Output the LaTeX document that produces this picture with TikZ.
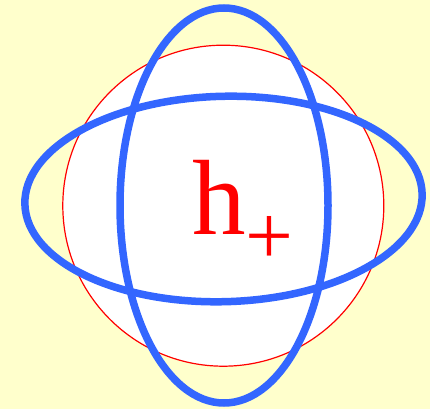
\documentclass[tikz,border=0pt]{standalone}
\usepackage{fontspec}
\setmainfont{Liberation Serif}
\definecolor{bgyellow}{HTML}{FFFFCC}
\definecolor{ringblue}{HTML}{3366FF}
\definecolor{hred}{HTML}{FF0000}
\begin{document}
\begin{tikzpicture}[x=1pt,y=1pt,
  ring/.style={draw=ringblue,line width=7.5pt},
  sphere/.style={draw=hred,line width=1.2pt,fill=white}]
\fill[bgyellow] (0,0) rectangle (430,409);
\useasboundingbox (0,0) rectangle (430,409);
\draw[sphere] (223.3,203.3) circle[radius=160.5];
\draw[ring] (224,203.5) ellipse[x radius=104,y radius=197.5];
\draw[ring,rotate around={1.5:(223.5,210)}] (223.5,210) ellipse[x radius=198.7,y radius=102.7];
\node[anchor=base west,inner sep=0pt,text=hred,font=\fontsize{107}{107}\selectfont] (label) at (192,174) {h\raisebox{-30pt}{\fontsize{85}{85}\selectfont +}};
\end{tikzpicture}
\end{document}
